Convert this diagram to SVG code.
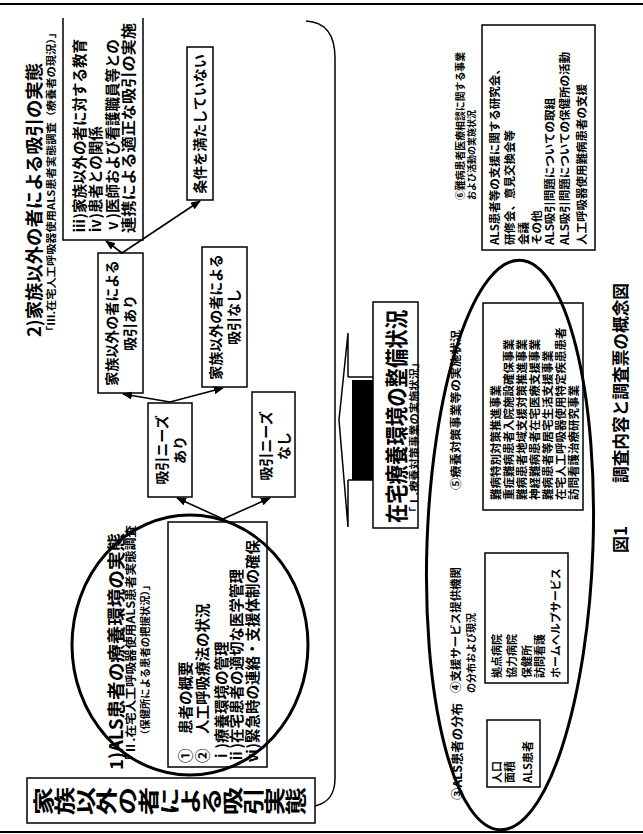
<svg xmlns="http://www.w3.org/2000/svg" width="643" height="834" viewBox="0 0 643 834">
<style>
.t{font-family:"Noto Sans CJK JP","Noto Sans CJK SC",sans-serif;font-weight:bold;fill:#000}
.v{font-family:"Noto Sans CJK JP","Noto Sans CJK SC",sans-serif;font-weight:bold;fill:#000}
.m{text-anchor:middle}
.b{fill:none;stroke:#000;stroke-width:1.5}
.ln{fill:none;stroke:#000;stroke-width:1.5}
.ov{fill:none;stroke:#000;stroke-width:3}
.ar{fill:none;stroke:#000;stroke-width:1.6;marker-end:url(#ah)}
</style>
<defs>
<marker id="ah" markerUnits="userSpaceOnUse" markerWidth="10" markerHeight="8" refX="9" refY="4" orient="auto"><path d="M0,0 L10,4 L0,8 Z" fill="#000"/></marker>
</defs>
<rect width="643" height="834" fill="#fff"/>
<g id="frame">
<line x1="0" y1="4" x2="643" y2="4" stroke="#000" stroke-width="2"/>
<line x1="0" y1="832" x2="643" y2="832" stroke="#000" stroke-width="2"/>
<path class="ln" d="M306,21 C326,22 335,35 335,58 L335,778 C335,795 328,803 315,806"/>
</g>

<g id="sec2-title">
<text class="t" font-size="18" textLength="274" lengthAdjust="spacingAndGlyphs" transform="translate(40.8,337) rotate(-90)">2)家族以外の者による吸引の実態</text>
<text class="t" font-size="10" textLength="310" lengthAdjust="spacingAndGlyphs" transform="translate(54.8,337) rotate(-90)">「Ⅲ.在宅人工呼吸器使用ALS患者実態調査（療養者の現況）」</text>
</g>

<g id="box-edu">
<path class="b" d="M63,18 L63,240 L143,240 L143,18"/>
<text class="t" font-size="14.5" transform="translate(84.5,233) rotate(-90)">ⅲ)家族以外の者に対する教育</text>
<text class="t" font-size="14.5" transform="translate(100.5,233) rotate(-90)">ⅳ)患者との関係</text>
<text class="t" font-size="14.5" transform="translate(117.5,233) rotate(-90)">ⅴ)医師および看護職員等との</text>
<text class="t" font-size="14.5" textLength="210" lengthAdjust="spacingAndGlyphs" transform="translate(133.5,233) rotate(-90)">連携による適正な吸引の実施</text>
</g>

<g id="box-cond">
<rect class="b" x="187" y="47" width="26" height="153"/>
<text class="t m" font-size="14" transform="translate(205.3,124) rotate(-90)">条件を満たしていない</text>
</g>

<g id="box-yes">
<rect class="b" x="98" y="253" width="45" height="140"/>
<text class="t m" font-size="14" transform="translate(117.3,323) rotate(-90)">家族以外の者による</text>
<text class="t m" font-size="14" transform="translate(135.3,323) rotate(-90)">吸引あり</text>
</g>

<g id="box-no">
<rect class="b" x="202" y="247" width="45" height="140"/>
<text class="t m" font-size="14" transform="translate(221.3,317) rotate(-90)">家族以外の者による</text>
<text class="t m" font-size="14" transform="translate(239.3,317) rotate(-90)">吸引なし</text>
</g>

<g id="box-need-yes">
<rect class="b" x="148" y="403" width="44" height="94"/>
<text class="t m" font-size="14" transform="translate(167.3,450) rotate(-90)">吸引ニーズ</text>
<text class="t m" font-size="14" transform="translate(185.3,450) rotate(-90)">あり</text>
</g>

<g id="box-need-no">
<rect class="b" x="252" y="392" width="43" height="105"/>
<text class="t m" font-size="14" transform="translate(271.3,446) rotate(-90)">吸引ニーズ</text>
<text class="t m" font-size="14" transform="translate(289.3,446) rotate(-90)">なし</text>
</g>

<g id="sec1">
<rect class="b" x="168" y="522" width="99" height="245"/>
<text class="t" font-size="14.5" transform="translate(190.5,763) rotate(-90)">①　患者の概要</text>
<text class="t" font-size="14.5" transform="translate(207.5,763) rotate(-90)">②　人工呼吸療法の状況</text>
<text class="t" font-size="14.5" transform="translate(226.5,763) rotate(-90)">ⅰ)療養環境の管理</text>
<text class="t" font-size="14.5" transform="translate(241.5,763) rotate(-90)">ⅱ)在宅患者の適切な医学管理</text>
<text class="t" font-size="14.5" transform="translate(257.5,763) rotate(-90)">ⅵ)緊急時の連絡・支援体制の確保</text>
<text class="t" font-size="18" textLength="237" lengthAdjust="spacingAndGlyphs" transform="translate(122.8,770) rotate(-90)">1)ALS患者の療養環境の実態</text>
<text class="t" font-size="11.5" textLength="242" lengthAdjust="spacingAndGlyphs" transform="translate(135.4,767) rotate(-90)">「Ⅱ.在宅人工呼吸器使用ALS患者実態調査</text>
<text class="t" font-size="10" textLength="160" lengthAdjust="spacingAndGlyphs" transform="translate(148.8,740) rotate(-90)">（保健所による患者の把握状況）」</text>
<ellipse class="ov" cx="190" cy="645" rx="118" ry="130"/>
</g>

<g id="box-main">
<rect class="b" x="27" y="778" width="288" height="45"/>
<text class="v" font-size="21" writing-mode="vertical-rl" transform="translate(33,801) rotate(-90) scale(1.35,1)">家族以外の者による吸引実態</text>
</g>

<g id="box-env">
<rect class="b" x="373" y="302" width="45" height="226"/>
<text class="t" font-size="23" textLength="213" lengthAdjust="spacingAndGlyphs" transform="translate(404.7,523) rotate(-90)">在宅療養環境の整備状況</text>
<text class="t" font-size="10" textLength="161" lengthAdjust="spacingAndGlyphs" transform="translate(417.8,518) rotate(-90)">「Ⅰ.療養対策事業の実施状況」</text>
</g>

<g id="sec6">
<text class="t" font-size="10" textLength="148" lengthAdjust="spacingAndGlyphs" transform="translate(463.8,200) rotate(-90)">⑥難病患者医療相談に関する事業</text>
<text class="t" font-size="9.5" textLength="90" lengthAdjust="spacingAndGlyphs" transform="translate(474.6,200) rotate(-90)">および活動の実施状況</text>
<rect class="b" x="482" y="25" width="113" height="225"/>
<text class="t" font-size="11.5" transform="translate(499.4,245) rotate(-90)">ALS患者等の支援に関する研究会、</text>
<text class="t" font-size="11.5" transform="translate(514.4,245) rotate(-90)">研修会、意見交換会等</text>
<text class="t" font-size="11.5" transform="translate(528.4,245) rotate(-90)">会議</text>
<text class="t" font-size="11.5" transform="translate(541.4,245) rotate(-90)">その他</text>
<text class="t" font-size="11.5" transform="translate(554.4,245) rotate(-90)">ALS吸引問題についての取組</text>
<text class="t" font-size="11.5" transform="translate(569.4,245) rotate(-90)">ALS吸引問題についての保健所の活動</text>
<text class="t" font-size="11.5" transform="translate(586.4,245) rotate(-90)">人工呼吸器使用難病患者の支援</text>
</g>

<g id="sec5">
<text class="t" font-size="11" textLength="160" lengthAdjust="spacingAndGlyphs" transform="translate(460.2,490) rotate(-90)">⑤療養対策事業等の実施状況</text>
<rect class="b" x="483" y="303" width="100" height="207"/>
<text class="t" font-size="11.5" transform="translate(500.4,500) rotate(-90)">難病特別対策推進事業</text>
<text class="t" font-size="11.5" transform="translate(513.4,500) rotate(-90)">重症難病患者入院施設確保事業</text>
<text class="t" font-size="11.5" transform="translate(526.4,500) rotate(-90)">難病患者地域支援対策推進事業</text>
<text class="t" font-size="11.5" transform="translate(539.4,500) rotate(-90)">神経難病患者在宅医療支援事業</text>
<text class="t" font-size="11.5" transform="translate(552.4,500) rotate(-90)">難病患者等居宅生活支援事業</text>
<text class="t" font-size="11.5" transform="translate(565.4,500) rotate(-90)">在宅人工呼吸器使用特定疾患患者</text>
<text class="t" font-size="11.5" transform="translate(578.4,500) rotate(-90)">訪問看護治療研究事業</text>
</g>

<g id="sec4">
<text class="t" font-size="11" textLength="126" lengthAdjust="spacingAndGlyphs" transform="translate(460.2,693) rotate(-90)">④支援サービス提供機関</text>
<text class="t" font-size="10" textLength="80" lengthAdjust="spacingAndGlyphs" transform="translate(474.8,693) rotate(-90)">の分布および現況</text>
<rect class="b" x="485" y="553" width="83" height="130"/>
<text class="t" font-size="11" transform="translate(501.2,678) rotate(-90)">拠点病院</text>
<text class="t" font-size="11" transform="translate(516.2,678) rotate(-90)">協力病院</text>
<text class="t" font-size="11" transform="translate(531.2,678) rotate(-90)">保健所</text>
<text class="t" font-size="11" transform="translate(544.2,678) rotate(-90)">訪問看護</text>
<text class="t" font-size="11" transform="translate(560.2,678) rotate(-90)">ホームヘルプサービス</text>
</g>

<g id="sec3">
<text class="t" font-size="12" textLength="97" lengthAdjust="spacingAndGlyphs" transform="translate(461.6,800) rotate(-90)">③ALS患者の分布</text>
<rect class="b" x="487" y="720" width="53" height="67"/>
<text class="t" font-size="11" transform="translate(501.2,783) rotate(-90)">人口</text>
<text class="t" font-size="11" transform="translate(514.2,783) rotate(-90)">面積</text>
<text class="t" font-size="11" transform="translate(532.2,783) rotate(-90)">ALS患者</text>
</g>

<g id="oval">
<ellipse class="ov" cx="510" cy="545" rx="83" ry="285" transform="rotate(2 510 545)"/>
</g>

<g id="title">
<text class="t" font-size="17" transform="translate(626.5,553) rotate(-90)">図1</text>
<text class="t" font-size="17" textLength="200" lengthAdjust="spacingAndGlyphs" transform="translate(626.5,483) rotate(-90)">調査内容と調査票の概念図</text>
</g>

<g id="connectors">
<line class="ar" x1="223" y1="519" x2="177" y2="498"/>
<line class="ar" x1="223" y1="519" x2="270" y2="498"/>
<line class="ar" x1="170" y1="402" x2="123" y2="394"/>
<line class="ar" x1="170" y1="402" x2="223" y2="388"/>
<line class="ar" x1="122" y1="253" x2="106" y2="241"/>
<line class="ar" x1="122" y1="253" x2="200" y2="201"/>
<path class="ln" d="M348,377 L348,333 L339,420 L348,527 L348,480"/>
<rect x="352" y="380" width="21" height="100" fill="#000"/>
<path class="ln" d="M348,377 L373,377 M348,480 L373,480"/>
</g>
</svg>
